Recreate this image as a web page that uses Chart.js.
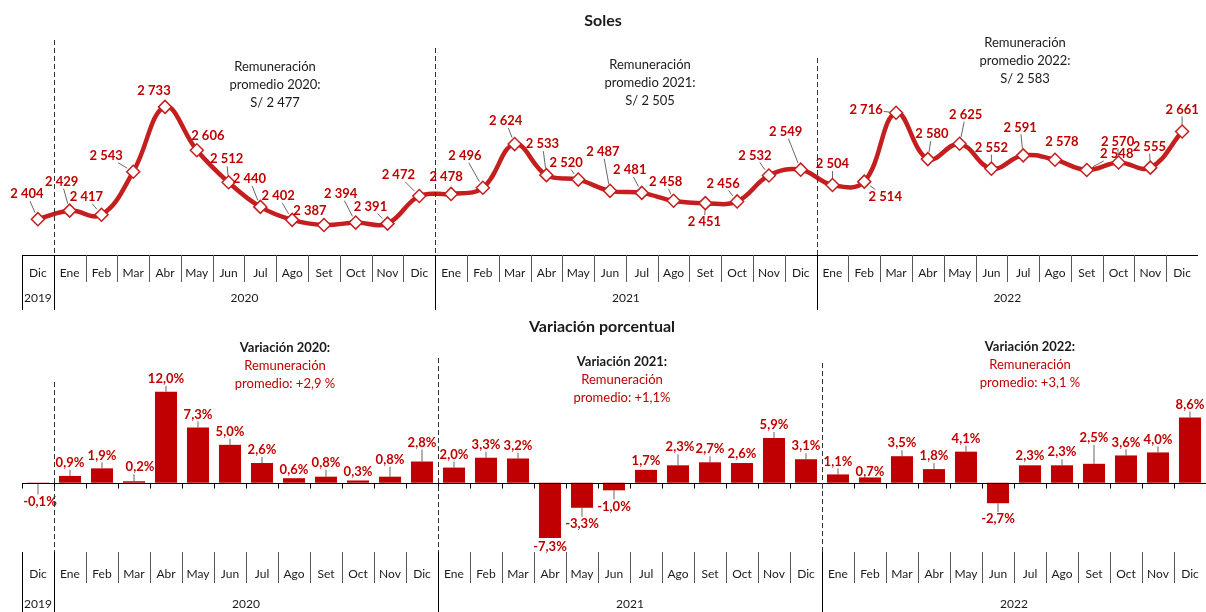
<!DOCTYPE html>
<html>
<head>
<meta charset="utf-8">
<script src="https://cdn.jsdelivr.net/npm/chart.js@4.4.1/dist/chart.umd.min.js"></script>
<style>
  body { margin: 0; background: #fff; }
  #top { position: absolute; left: 0; top: 0; }
  #bot { position: absolute; left: 0; top: 310px; }
</style>
</head>
<body>
<canvas id="top" width="1206" height="310"></canvas>
<canvas id="bot" width="1206" height="302"></canvas>
<script>
var meses = ['Dic',
  'Ene','Feb','Mar','Abr','May','Jun','Jul','Ago','Set','Oct','Nov','Dic',
  'Ene','Feb','Mar','Abr','May','Jun','Jul','Ago','Set','Oct','Nov','Dic',
  'Ene','Feb','Mar','Abr','May','Jun','Jul','Ago','Set','Oct','Nov','Dic'];
var anios = ['2019', '2020', '2021', '2022'];
var mesesPorAnio = [1, 12, 12, 12];

// remuneracion promedio mensual, soles
var soles = [2404,
  2429, 2417, 2543, 2733, 2606, 2512, 2440, 2402, 2387, 2394, 2391, 2472,
  2478, 2496, 2624, 2533, 2520, 2487, 2481, 2458, 2451, 2456, 2532, 2549,
  2504, 2514, 2716, 2580, 2625, 2552, 2591, 2578, 2548, 2570, 2555, 2661];

// variacion porcentual anual
var variacion = [-0.1,
  0.9, 1.9, 0.2, 12.0, 7.3, 5.0, 2.6, 0.6, 0.8, 0.3, 0.8, 2.8,
  2.0, 3.3, 3.2, -7.3, -3.3, -1.0, 1.7, 2.3, 2.7, 2.6, 5.9, 3.1,
  1.1, 0.7, 3.5, 1.8, 4.1, -2.7, 2.3, 2.3, 2.5, 3.6, 4.0, 8.6];

var promedioSoles = ['S/ 2 477', 'S/ 2 505', 'S/ 2 583'];
var promedioVar = ['+2,9 %', '+1,1%', '+3,1 %'];

var ROJO = '#C00000';
var LINEA = '#C41E1E';
var TEXTO = '#1a1a1a';
var FUENTE = 'Lato, "Open Sans", sans-serif';

// where each value label sits relative to its point (dx, dy)
var etiqSoles = [[-11,-25],
  [-8,-29],[-15,-18],[-27,-16],[-11,-16],[11,-14],[-2,-23],[-11,-28],[-14,-24],[-14,-14],[-15,-29],[-17,-17],[-21,-21],
  [-5,-17],[-18,-32],[-9,-23],[-4,-31],[-12,-17],[-7,-39],[-12,-23],[-8,-19],[-1,19],[-14,-18],[-14,-20],[-15,-38],
  [0,-21],[21,15],[-30,-3],[4,-25],[6,-29],[0,-21],[-3,-28],[7,-18],[30,-16],[-1,-21],[-1,-21],[0,-22]];
var etiqVar = {0: [2, 18], 3: [6, -14], 8: [0, -8], 9: [0, -14], 10: [0, -9], 11: [0, -17], 12: [0, -19],
  16: [0, 9], 19: [0, -9], 20: [2, -18], 22: [0, -9], 26: [0, -6], 31: [0, -9], 33: [0, -26]};

function fmtSoles(v) {
  return String(v).replace(/\B(?=(\d{3})+(?!\d))/g, ' ');
}
function fmtPct(v) {
  return v.toFixed(1).replace('.', ',') + '%';
}

// multi-level category table below the plot (months + years)
function dibujarTabla(chart, o) {
  var ctx = chart.ctx;
  var xs = chart.scales.x;
  var n = meses.length;
  var w = (xs.right - xs.left) / n;
  var left = xs.left;
  ctx.save();
  ctx.strokeStyle = '#000';
  ctx.lineWidth = 1;
  ctx.setLineDash([]);
  if (o.lineaY != null) {
    ctx.beginPath();
    ctx.moveTo(left, o.lineaY + 0.5);
    ctx.lineTo(xs.right, o.lineaY + 0.5);
    ctx.stroke();
  }
  // separadores de meses
  ctx.strokeStyle = '#555';
  for (var i = 1; i < n; i++) {
    var x = Math.round(left + i * w) + 0.5;
    ctx.beginPath();
    ctx.moveTo(x, o.sepTop);
    ctx.lineTo(x, o.sepBottom);
    ctx.stroke();
  }
  ctx.strokeStyle = '#000';
  ctx.beginPath();
  ctx.moveTo(Math.round(left) + 0.5, o.sepTop);
  ctx.lineTo(Math.round(left) + 0.5, o.bottom);
  ctx.stroke();
  // limites de anio: punteado arriba, continuo en la tabla
  var idx = 0;
  for (var a = 0; a < anios.length; a++) {
    var x0 = left + idx * w;
    var x1 = left + (idx + mesesPorAnio[a]) * w;
    if (a > 0) {
      var xb = Math.round(x0) + 0.5;
      ctx.beginPath();
      ctx.moveTo(xb, o.sepTop);
      ctx.lineTo(xb, o.bottom);
      ctx.stroke();
      ctx.save();
      ctx.setLineDash([5, 3]);
      ctx.strokeStyle = '#333';
      ctx.beginPath();
      ctx.moveTo(xb, o.dashTop[a - 1]);
      ctx.lineTo(xb, o.sepTop);
      ctx.stroke();
      ctx.restore();
    }
    ctx.fillStyle = TEXTO;
    ctx.font = '12px ' + FUENTE;
    ctx.textAlign = 'center';
    ctx.textBaseline = 'middle';
    ctx.fillText(anios[a], (x0 + x1) / 2, o.anioY);
    idx += mesesPorAnio[a];
  }
  ctx.fillStyle = TEXTO;
  ctx.font = '12px ' + FUENTE;
  ctx.textAlign = 'center';
  ctx.textBaseline = 'middle';
  for (var j = 0; j < n; j++) {
    ctx.fillText(meses[j], left + (j + 0.5) * w, o.mesY);
  }
  ctx.restore();
}

function textoCentrado(ctx, lineas, x, y, paso) {
  for (var i = 0; i < lineas.length; i++) {
    var l = lineas[i];
    ctx.font = l.font;
    ctx.fillStyle = l.color;
    ctx.fillText(l.t, x, y + i * paso);
  }
}

var tablaSoles = {
  id: 'tablaSoles',
  afterDraw: function (chart) {
    var ctx = chart.ctx;
    dibujarTabla(chart, {lineaY: 255, sepTop: 255, sepBottom: 282, bottom: 310,
      mesY: 273, anioY: 298, dashTop: [40, 48, 58]});
    ctx.save();
    ctx.textAlign = 'center';
    ctx.textBaseline = 'middle';
    ctx.font = 'bold 16px ' + FUENTE;
    ctx.fillStyle = TEXTO;
    ctx.fillText('Soles', 603, 21);
    var cx = [275, 650, 1025], cy = [67, 65, 43];
    for (var k = 0; k < 3; k++) {
      textoCentrado(ctx, [
        {t: 'Remuneración', font: '13px ' + FUENTE, color: TEXTO},
        {t: 'promedio ' + anios[k + 1] + ':', font: '13px ' + FUENTE, color: TEXTO},
        {t: promedioSoles[k], font: '13px ' + FUENTE, color: TEXTO}
      ], cx[k], cy[k], 18);
    }
    ctx.restore();
  },
  afterDatasetsDraw: function (chart) {
    var ctx = chart.ctx;
    var pts = chart.getDatasetMeta(0).data;
    ctx.save();
    ctx.font = 'bold 13px ' + FUENTE;
    ctx.textAlign = 'center';
    ctx.textBaseline = 'middle';
    for (var i = 0; i < pts.length; i++) {
      var px = pts[i].x, py = pts[i].y;
      var lx = px + etiqSoles[i][0], ly = py + etiqSoles[i][1];
      var txt = fmtSoles(soles[i]);
      var hw = ctx.measureText(txt).width / 2 + 1, hh = 7;
      // linea guia desde el punto hasta el borde de la etiqueta
      var dx = lx - px, dy = ly - py;
      var tx = dx !== 0 ? (Math.abs(dx) - hw) / Math.abs(dx) : -1;
      var ty = dy !== 0 ? (Math.abs(dy) - hh) / Math.abs(dy) : -1;
      var t = Math.max(tx, ty);
      var len = Math.sqrt(dx * dx + dy * dy);
      if (t > 0 && t * len - 7 > 5) {
        var s = 7 / len;
        ctx.strokeStyle = '#404040';
        ctx.lineWidth = 0.8;
        ctx.beginPath();
        ctx.moveTo(px + dx * s, py + dy * s);
        ctx.lineTo(px + dx * t, py + dy * t);
        ctx.stroke();
      }
      ctx.fillStyle = ROJO;
      ctx.fillText(txt, lx, ly);
    }
    ctx.restore();
  }
};

var tablaVar = {
  id: 'tablaVar',
  afterDraw: function (chart) {
    var ctx = chart.ctx;
    var xs = chart.scales.x, ys = chart.scales.y;
    var y0 = Math.round(ys.getPixelForValue(0)) + 0.5;
    ctx.save();
    ctx.strokeStyle = '#000';
    ctx.lineWidth = 1;
    ctx.beginPath();
    ctx.moveTo(xs.left, y0);
    ctx.lineTo(xs.right, y0);
    ctx.stroke();
    var w = (xs.right - xs.left) / meses.length;
    for (var i = 0; i <= meses.length; i++) {
      var x = Math.round(xs.left + i * w) + 0.5;
      ctx.beginPath();
      ctx.moveTo(x, y0);
      ctx.lineTo(x, y0 + 5);
      ctx.stroke();
    }
    ctx.restore();
    dibujarTabla(chart, {lineaY: null, sepTop: 242, sepBottom: 273, bottom: 302,
      mesY: 264, anioY: 294, dashTop: [72, 48, 53]});
    ctx.save();
    ctx.textAlign = 'center';
    ctx.textBaseline = 'middle';
    ctx.font = 'bold 16px ' + FUENTE;
    ctx.fillStyle = TEXTO;
    ctx.fillText('Variación porcentual', 602, 17);
    var cx = [285, 622, 1030], cy = [38, 52, 37];
    for (var k = 0; k < 3; k++) {
      textoCentrado(ctx, [
        {t: 'Variación ' + anios[k + 1] + ':', font: 'bold 13px ' + FUENTE, color: TEXTO},
        {t: 'Remuneración', font: '13px ' + FUENTE, color: ROJO},
        {t: 'promedio: ' + promedioVar[k], font: '13px ' + FUENTE, color: ROJO}
      ], cx[k], cy[k], 18);
    }
    ctx.restore();
  },
  afterDatasetsDraw: function (chart) {
    var ctx = chart.ctx;
    var bars = chart.getDatasetMeta(0).data;
    ctx.save();
    ctx.font = 'bold 13px ' + FUENTE;
    ctx.textAlign = 'center';
    ctx.textBaseline = 'middle';
    for (var i = 0; i < bars.length; i++) {
      var v = variacion[i];
      var off = etiqVar[i] || [0, v >= 0 ? -13 : 16];
      var lx = bars[i].x + off[0], ly = bars[i].y + off[1];
      var gap = v >= 0 ? (bars[i].y - (ly + 7)) : ((ly - 7) - bars[i].y);
      if (gap > 5) {
        ctx.strokeStyle = '#404040';
        ctx.lineWidth = 0.8;
        ctx.beginPath();
        ctx.moveTo(bars[i].x, bars[i].y);
        ctx.lineTo(bars[i].x, v >= 0 ? ly + 7 : ly - 7);
        ctx.stroke();
      }
      ctx.fillStyle = ROJO;
      ctx.fillText(fmtPct(v), lx, ly);
    }
    ctx.restore();
  }
};

var graficoSoles = new Chart(document.getElementById('top').getContext('2d'), {
  type: 'line',
  data: {
    labels: meses,
    datasets: [{
      data: soles,
      borderColor: LINEA,
      borderWidth: 4.5,
      tension: 0.4,
      pointStyle: 'rectRot',
      pointRadius: 6.5,
      pointBackgroundColor: '#fff',
      pointBorderColor: LINEA,
      pointBorderWidth: 1.5,
      clip: false
    }]
  },
  options: {
    responsive: false,
    animation: false,
    events: [],
    layout: {padding: {left: 22, right: 0, top: 40, bottom: 55}},
    plugins: {legend: {display: false}, tooltip: {enabled: false}},
    scales: {
      x: {display: false, offset: true},
      y: {display: false, min: 2299, max: 2929}
    }
  },
  plugins: [tablaSoles]
});

var graficoVar = new Chart(document.getElementById('bot').getContext('2d'), {
  type: 'bar',
  data: {
    labels: meses,
    datasets: [{
      data: variacion,
      backgroundColor: ROJO,
      categoryPercentage: 1,
      barPercentage: 0.69
    }]
  },
  options: {
    responsive: false,
    animation: false,
    events: [],
    layout: {padding: {left: 22, right: 0, top: 59, bottom: 61}},
    plugins: {legend: {display: false}, tooltip: {enabled: false}},
    scales: {
      x: {display: false, offset: true},
      y: {display: false, min: -9, max: 15}
    }
  },
  plugins: [tablaVar]
});
</script>
</body>
</html>
